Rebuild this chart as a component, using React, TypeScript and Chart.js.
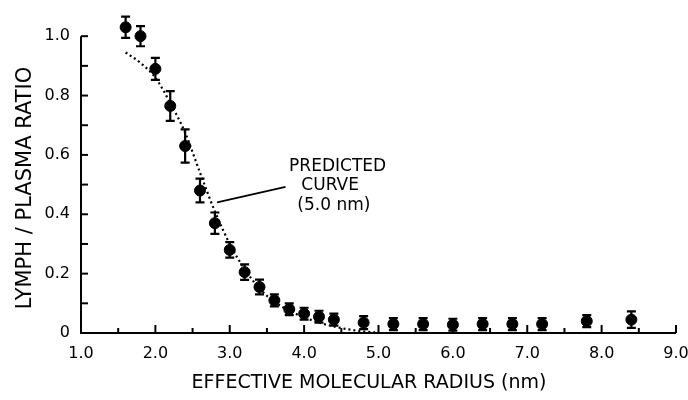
import React, { useEffect, useRef } from "react";
import { Chart, registerables } from "chart.js";

Chart.register(...registerables);

// Measured points (effective molecular radius, nm) and lymph/plasma ratio
const radiusNm = [1.6, 1.8, 2.0, 2.2, 2.4, 2.6, 2.8, 3.0, 3.2, 3.4, 3.6, 3.8, 4.0, 4.2, 4.4, 4.8, 5.2, 5.6, 6.0, 6.4, 6.8, 7.2, 7.8, 8.4];
const ratio = [1.03, 1.0, 0.89, 0.765, 0.63, 0.48, 0.37, 0.28, 0.205, 0.155, 0.11, 0.08, 0.065, 0.055, 0.045, 0.035, 0.03, 0.03, 0.028, 0.03, 0.03, 0.03, 0.04, 0.045];
const ratioErr = [0.036, 0.034, 0.037, 0.05, 0.056, 0.04, 0.036, 0.026, 0.026, 0.025, 0.02, 0.02, 0.02, 0.02, 0.02, 0.022, 0.02, 0.02, 0.02, 0.02, 0.02, 0.02, 0.02, 0.028];

// Predicted curve (5.0 nm pore)
const curveX = [1.6, 1.8, 2.0, 2.2, 2.4, 2.6, 2.8, 3.0, 3.2, 3.4, 3.6, 3.8, 4.0, 4.2, 4.4, 4.6, 4.8, 5.0];
const curveY = [0.945, 0.91, 0.86, 0.775, 0.675, 0.54, 0.41, 0.3, 0.215, 0.15, 0.105, 0.075, 0.053, 0.035, 0.022, 0.012, 0.005, 0.001];

const xTickValues = [1, 2, 3, 4, 5, 6, 7, 8, 9];
const yTickLabels = ["0", "0.2", "0.4", "0.6", "0.8", "1.0"];

const annotationLines = ["PREDICTED", "CURVE", "(5.0 nm)"];

const FONT = "'DejaVu Sans', sans-serif";

const decorPlugin = {
  id: "decor",
  afterDatasetsDraw(chart: any) {
    const ctx = chart.ctx;
    const xs = chart.scales.x;
    const ys = chart.scales.y;
    ctx.save();
    ctx.strokeStyle = "#000";
    ctx.fillStyle = "#000";
    ctx.lineWidth = 2.2;
    ctx.lineCap = "butt";

    // error bars
    const meta = chart.getDatasetMeta(0);
    meta.data.forEach((pt: any, i: number) => {
      const x = pt.x;
      const yt = ys.getPixelForValue(ratio[i] + ratioErr[i]);
      const yb = ys.getPixelForValue(ratio[i] - ratioErr[i]);
      ctx.beginPath();
      ctx.moveTo(x, yt);
      ctx.lineTo(x, yb);
      ctx.moveTo(x - 4.5, yt);
      ctx.lineTo(x + 4.5, yt);
      ctx.moveTo(x - 4.5, yb);
      ctx.lineTo(x + 4.5, yb);
      ctx.stroke();
    });

    // axes
    ctx.lineWidth = 2;
    const x0 = xs.getPixelForValue(1);
    const x1 = xs.getPixelForValue(9);
    const y0 = ys.getPixelForValue(0);
    const y1 = ys.getPixelForValue(1.0);
    ctx.beginPath();
    ctx.moveTo(x0, y1);
    ctx.lineTo(x0, y0);
    ctx.lineTo(x1, y0);
    ctx.stroke();
    for (let k = 1; k <= 10; k++) {
      const y = ys.getPixelForValue(k / 10);
      ctx.beginPath();
      ctx.moveTo(x0, y);
      ctx.lineTo(x0 + 7, y);
      ctx.stroke();
    }
    for (let k = 3; k <= 18; k++) {
      const v = k / 2;
      const x = xs.getPixelForValue(v);
      const len = k % 2 === 0 ? 8 : 5;
      ctx.beginPath();
      ctx.moveTo(x, y0);
      ctx.lineTo(x, y0 - len);
      ctx.stroke();
    }

    // annotation leader line
    ctx.lineWidth = 1.8;
    ctx.beginPath();
    ctx.moveTo(xs.getPixelForValue(2.83), ys.getPixelForValue(0.44));
    ctx.lineTo(xs.getPixelForValue(3.75), ys.getPixelForValue(0.492));
    ctx.stroke();

    // annotation text
    ctx.font = `17px ${FONT}`;
    ctx.textAlign = "center";
    ctx.textBaseline = "middle";
    const ax = [4.45, 4.35, 4.4];
    const ay = [0.56, 0.495, 0.428];
    annotationLines.forEach((t, i) => {
      ctx.fillText(t, xs.getPixelForValue(ax[i]), ys.getPixelForValue(ay[i]));
    });

    // axis titles
    ctx.font = `19px ${FONT}`;
    ctx.fillText("EFFECTIVE MOLECULAR RADIUS (nm)", 369, 383);
    ctx.translate(26, 188);
    ctx.rotate(-Math.PI / 2);
    ctx.font = `21px ${FONT}`;
    ctx.fillText("LYMPH / PLASMA RATIO", 0, 0);
    ctx.restore();
  },
};

export default function App() {
  const ref = useRef<HTMLCanvasElement | null>(null);
  useEffect(() => {
    if (!ref.current) return;
    const chart = new Chart(ref.current, {
      type: "scatter",
      data: {
        datasets: [
          {
            label: "Measured",
            data: radiusNm.map((x, i) => ({ x, y: ratio[i] })),
            backgroundColor: "#000",
            borderColor: "#000",
            pointRadius: 5.5,
            pointHoverRadius: 5.5,
            showLine: false,
          },
          {
            label: "Predicted curve (5.0 nm)",
            type: "line",
            data: curveX.map((x, i) => ({ x, y: curveY[i] })),
            borderColor: "#000",
            borderWidth: 2.2,
            borderDash: [2, 3],
            pointRadius: 0,
            fill: false,
            tension: 0.4,
            cubicInterpolationMode: "monotone",
          } as any,
        ],
      },
      options: {
        responsive: false,
        animation: false,
        layout: { padding: { left: 0, right: 12, top: 0, bottom: 0 } },
        plugins: { legend: { display: false }, tooltip: { enabled: false } },
        scales: {
          x: {
            type: "linear",
            min: 1,
            max: 9,
            grid: { display: false, drawTicks: false },
            border: { display: false },
            afterBuildTicks: (s: any) => {
              s.ticks = xTickValues.map((v) => ({ value: v }));
            },
            ticks: {
              padding: 11,
              color: "#000",
              font: { family: FONT, size: 16 },
              callback: (v: any) => Number(v).toFixed(1),
            },
            afterFit: (s: any) => {
              s.height = 67;
              s.paddingLeft = 0;
              s.paddingRight = 0;
            },
          },
          y: {
            type: "linear",
            min: 0,
            max: 1.1,
            grid: { display: false, drawTicks: false },
            border: { display: false },
            afterBuildTicks: (s: any) => {
              s.ticks = yTickLabels.map((_, i) => ({ value: i * 0.2 }));
            },
            ticks: {
              padding: 11,
              color: "#000",
              font: { family: FONT, size: 16 },
              callback: (_v: any, i: number) => yTickLabels[i],
            },
            afterFit: (s: any) => {
              s.width = 81;
              s.paddingTop = 0;
              s.paddingBottom = 0;
            },
          },
        },
      },
      plugins: [decorPlugin],
    });
    return () => chart.destroy();
  }, []);
  return (
    <div style={{ position: "fixed", left: 0, top: 0, width: 688, height: 400, background: "#fff" }}>
      <canvas ref={ref} width={688} height={400} />
    </div>
  );
}
